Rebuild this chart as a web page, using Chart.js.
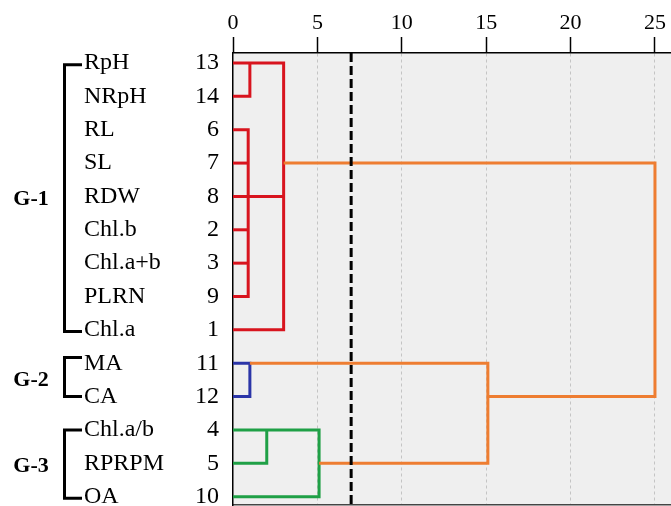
<!DOCTYPE html>
<html>
<head>
<meta charset="utf-8">
<script src="https://cdn.jsdelivr.net/npm/chart.js@4/dist/chart.umd.min.js"></script>
<style>
  html,body{margin:0;padding:0;background:#fff;}
  #wrap{width:671px;height:506px;position:relative;}
</style>
</head>
<body>
<div id="wrap"><canvas id="c"></canvas></div>
<script>
// ---- data ----
const rowNames   = ['RpH','NRpH','RL','SL','RDW','Chl.b','Chl.a+b','PLRN','Chl.a','MA','CA','Chl.a/b','RPRPM','OA'];
const rowNumbers = ['13','14','6','7','8','2','3','9','1','11','12','4','5','10'];
const xTicks = [0,5,10,15,20,25];
const cutoff = 7;
// dendrogram links: [distance, row] vertices
const redLinks = [
  [[0,0],[3,0],[3,8],[0,8]],
  [[0,1],[1,1],[1,0]],
  [[0,2],[0.9,2],[0.9,7],[0,7]],
  [[0,3],[0.9,3]],
  [[0,4],[3,4]],
  [[0,5],[0.9,5]],
  [[0,6],[0.9,6]]
];
const orangeLinks = [
  [[3,3],[25,3],[25,10],[15.1,10]],
  [[1,9],[15.1,9],[15.1,12],[5.1,12]]
];
const blueLinks  = [[[0,9],[1,9],[1,10],[0,10]]];
const greenLinks = [[[0,11],[5.1,11],[5.1,13],[0,13]],[[0,12],[2,12],[2,11]]];
const groupLabels = ['G-1','G-2','G-3'];
const groupFrom   = [0.05, 8.83, 11];
const groupTo     = [8.05, 10, 13.05];
const groupMid    = [4.1, 9.5, 12.1];

const SERIF = '"Liberation Serif","Times New Roman",serif';
const COLORS = {red:'#d8141e', orange:'#ee7d31', blue:'#2b35a8', green:'#1fa046'};

function mk(links, color){
  return links.map(l => ({
    data: l.map(p => ({x:p[0], y:p[1]})),
    borderColor: color, borderWidth: 3, pointRadius: 0, fill:false, tension:0,
    xAxisID:'x', yAxisID:'y', order: 2, borderJoinStyle:'miter', borderCapStyle:'butt'
  }));
}
const datasets = [
  {data:[{x:cutoff,y:-0.3},{x:cutoff,y:13.25}], borderColor:'#000', borderWidth:3, borderDash:[9,4],
   pointRadius:0, fill:false, xAxisID:'x', yAxisID:'y', order:0},
  ...mk(orangeLinks, COLORS.orange),
  ...mk(redLinks, COLORS.red),
  ...mk(blueLinks, COLORS.blue),
  ...mk(greenLinks, COLORS.green)
];

function noPad(s){ s.paddingTop = 0; s.paddingBottom = 0; s.paddingLeft = 0; s.paddingRight = 0; }

const bgPlugin = {
  id:'bg',
  beforeDraw(chart){
    const {ctx, chartArea:a} = chart;
    ctx.save();
    ctx.fillStyle = '#efefef';
    ctx.fillRect(a.left, a.top, a.right-a.left, a.bottom-a.top);
    ctx.restore();
  }
};
const groupPlugin = {
  id:'groups',
  afterDraw(chart){
    const {ctx} = chart;
    const ys = chart.scales.y;
    ctx.save();
    ctx.strokeStyle = '#000';
    ctx.lineWidth = 3;
    ctx.lineJoin = 'miter';
    ctx.lineCap = 'butt';
    for (let i=0;i<groupLabels.length;i++){
      const y0 = ys.getPixelForValue(groupFrom[i]);
      const y1 = ys.getPixelForValue(groupTo[i]);
      ctx.beginPath();
      ctx.moveTo(82, y0); ctx.lineTo(64.5, y0); ctx.lineTo(64.5, y1); ctx.lineTo(82, y1);
      ctx.stroke();
      ctx.fillStyle = '#000';
      ctx.font = 'bold 22px ' + SERIF;
      ctx.textAlign = 'center';
      ctx.textBaseline = 'middle';
      ctx.fillText(groupLabels[i], 31, ys.getPixelForValue(groupMid[i]));
    }
    ctx.restore();
  }
};

new Chart(document.getElementById('c'), {
  type:'line',
  data:{datasets},
  options:{
    responsive:true, maintainAspectRatio:false, animation:false,
    layout:{padding:{left:84, right:0, top:0, bottom:0}},
    plugins:{legend:{display:false}, tooltip:{enabled:false}},
    scales:{
      x:{
        type:'linear', position:'top', min:0, max:25.95,
        afterBuildTicks(s){ s.ticks = xTicks.map(v=>({value:v})); },
        afterFit(s){ s.height = 53; noPad(s); },
        ticks:{font:{family:SERIF, size:22}, color:'#000', padding:1, maxRotation:0},
        grid:{color:(c)=> (c.tick && c.tick.value===0) ? 'rgba(0,0,0,0)' : '#c4c4c4', lineWidth:1,
              tickLength:16, tickColor:'#000', tickWidth:1.5, tickBorderDash:[]},
        border:{color:'#000', width:1.5, dash:[3,3]}
      },
      x2:{
        type:'linear', position:'bottom', min:0, max:25.95,
        ticks:{display:false},
        grid:{display:false, drawTicks:false},
        border:{color:'#444', width:1.5},
        afterFit(s){ s.height = 1; noPad(s); }
      },
      y:{
        type:'linear', position:'left', min:-0.3, max:13.25, reverse:true, weight:0,
        afterBuildTicks(s){ s.ticks = rowNumbers.map((_,i)=>({value:i})); },
        afterFit(s){ s.width = 60; noPad(s); },
        ticks:{font:{family:SERIF, size:24}, color:'#000', padding:14,
               callback:(v)=>rowNumbers[v]},
        grid:{display:false, drawTicks:false},
        border:{color:'#000', width:1.5}
      },
      yn:{
        type:'linear', position:'left', min:-0.3, max:13.25, reverse:true, weight:1,
        afterBuildTicks(s){ s.ticks = rowNames.map((_,i)=>({value:i})); },
        afterFit(s){ s.width = 89; noPad(s); },
        ticks:{font:{family:SERIF, size:24}, color:'#000', padding:0, crossAlign:'far',
               callback:(v)=>rowNames[v]},
        grid:{display:false, drawTicks:false},
        border:{display:false}
      }
    }
  },
  plugins:[bgPlugin, groupPlugin]
});
</script>
</body>
</html>
